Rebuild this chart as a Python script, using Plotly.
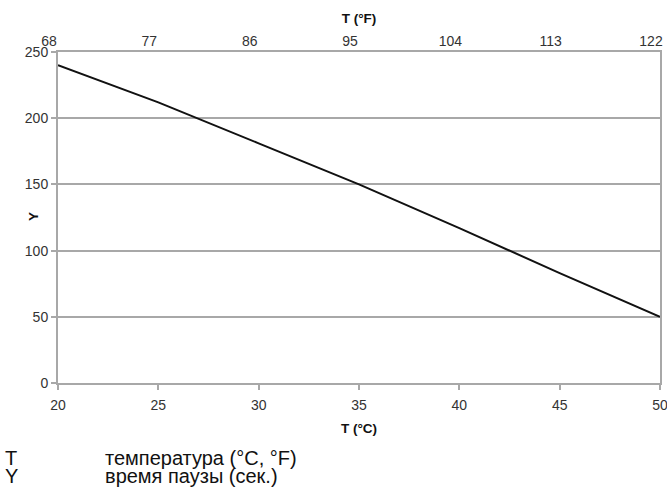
import plotly.graph_objects as go

temp_c = [20, 25, 30, 35, 40, 45, 50]
pause_s = [240, 212, 181, 150, 117, 83, 50]
c_ticks = [20, 25, 30, 35, 40, 45, 50]
f_ticks = [68, 77, 86, 95, 104, 113, 122]
y_ticks = [0, 50, 100, 150, 200, 250]
legend_keys = ["T", "Y"]
legend_texts = ["температура (°C, °F)", "время паузы (сек.)"]

FONT = "Liberation Sans, Arial, sans-serif"
GRID = "#a8a8a8"
TXT = "#333333"
W, H = 667, 489
ML, MR, MT, MB = 58, 7, 52, 106
PW, PH = W - ML - MR, H - MT - MB


def px_to_paper(px, py):
    return (px - ML) / PW, (H - MB - py) / PH


fig = go.Figure()
fig.add_trace(go.Scatter(x=temp_c, y=pause_s, mode="lines",
                         line=dict(color="#111111", width=2), showlegend=False))
fig.add_trace(go.Scatter(x=[c * 9 / 5 + 32 for c in temp_c], y=pause_s, xaxis="x2",
                         mode="lines", opacity=0, hoverinfo="skip", showlegend=False))

fig.update_layout(
    width=W, height=H,
    margin=dict(l=ML, r=MR, t=MT, b=MB),
    paper_bgcolor="white", plot_bgcolor="white",
    font=dict(family=FONT, size=14, color=TXT),
    xaxis=dict(range=[20, 50], tickvals=c_ticks, ticks="outside", ticklen=5,
               tickcolor=GRID, tickwidth=1.5, showline=True, linecolor=GRID,
               linewidth=1.5, mirror=True, showgrid=False, zeroline=False,
               automargin=False, tickfont=dict(size=14, color=TXT),
               ticklabeloverflow="allow", ticklabelstandoff=3,
               title=dict(text="<b>T (°C)</b>", font=dict(size=13.5, color="#111"), standoff=12)),
    xaxis2=dict(range=[68, 122], tickvals=f_ticks, overlaying="x", side="top",
                showgrid=False, zeroline=False, showline=False, ticks="",
                automargin=False, tickfont=dict(size=14, color=TXT),
                ticklabeloverflow="allow", ticklabelshift=-9, ticklabelstandoff=2,
                title=dict(text="<b>T (°F)</b>", font=dict(size=13.5, color="#111"), standoff=6)),
    yaxis=dict(range=[0, 250], tickvals=y_ticks, ticks="outside", ticklen=5,
               tickcolor=GRID, tickwidth=1.5, showline=True, linecolor=GRID,
               linewidth=2, mirror=True, showgrid=True, gridcolor=GRID, gridwidth=1.5,
               automargin=False, zeroline=False, tickfont=dict(size=14, color=TXT)),
)

# Y axis title (sits between tick labels in the reference)
yx, yy = px_to_paper(33, 217)
fig.add_annotation(x=yx, y=yy, xref="paper", yref="paper", text="<b>Y</b>",
                   textangle=-90, showarrow=False, xanchor="center", yanchor="middle",
                   font=dict(size=13.5, color="#111", family=FONT))

for i, (k, t) in enumerate(zip(legend_keys, legend_texts)):
    py = 458 + i * 18
    kx, ky = px_to_paper(3, py)
    tx, ty = px_to_paper(103, py)
    fig.add_annotation(x=kx, y=ky, xref="paper", yref="paper", text=k, showarrow=False,
                       xanchor="left", yanchor="middle",
                       font=dict(size=20, color="#111", family=FONT))
    fig.add_annotation(x=tx, y=ty, xref="paper", yref="paper", text=t, showarrow=False,
                       xanchor="left", yanchor="middle",
                       font=dict(size=20, color="#111", family=FONT))

fig.write_html("out.html", config={"displayModeBar": False},
               post_script="document.body.style.margin='0';document.body.style.overflow='hidden';")
